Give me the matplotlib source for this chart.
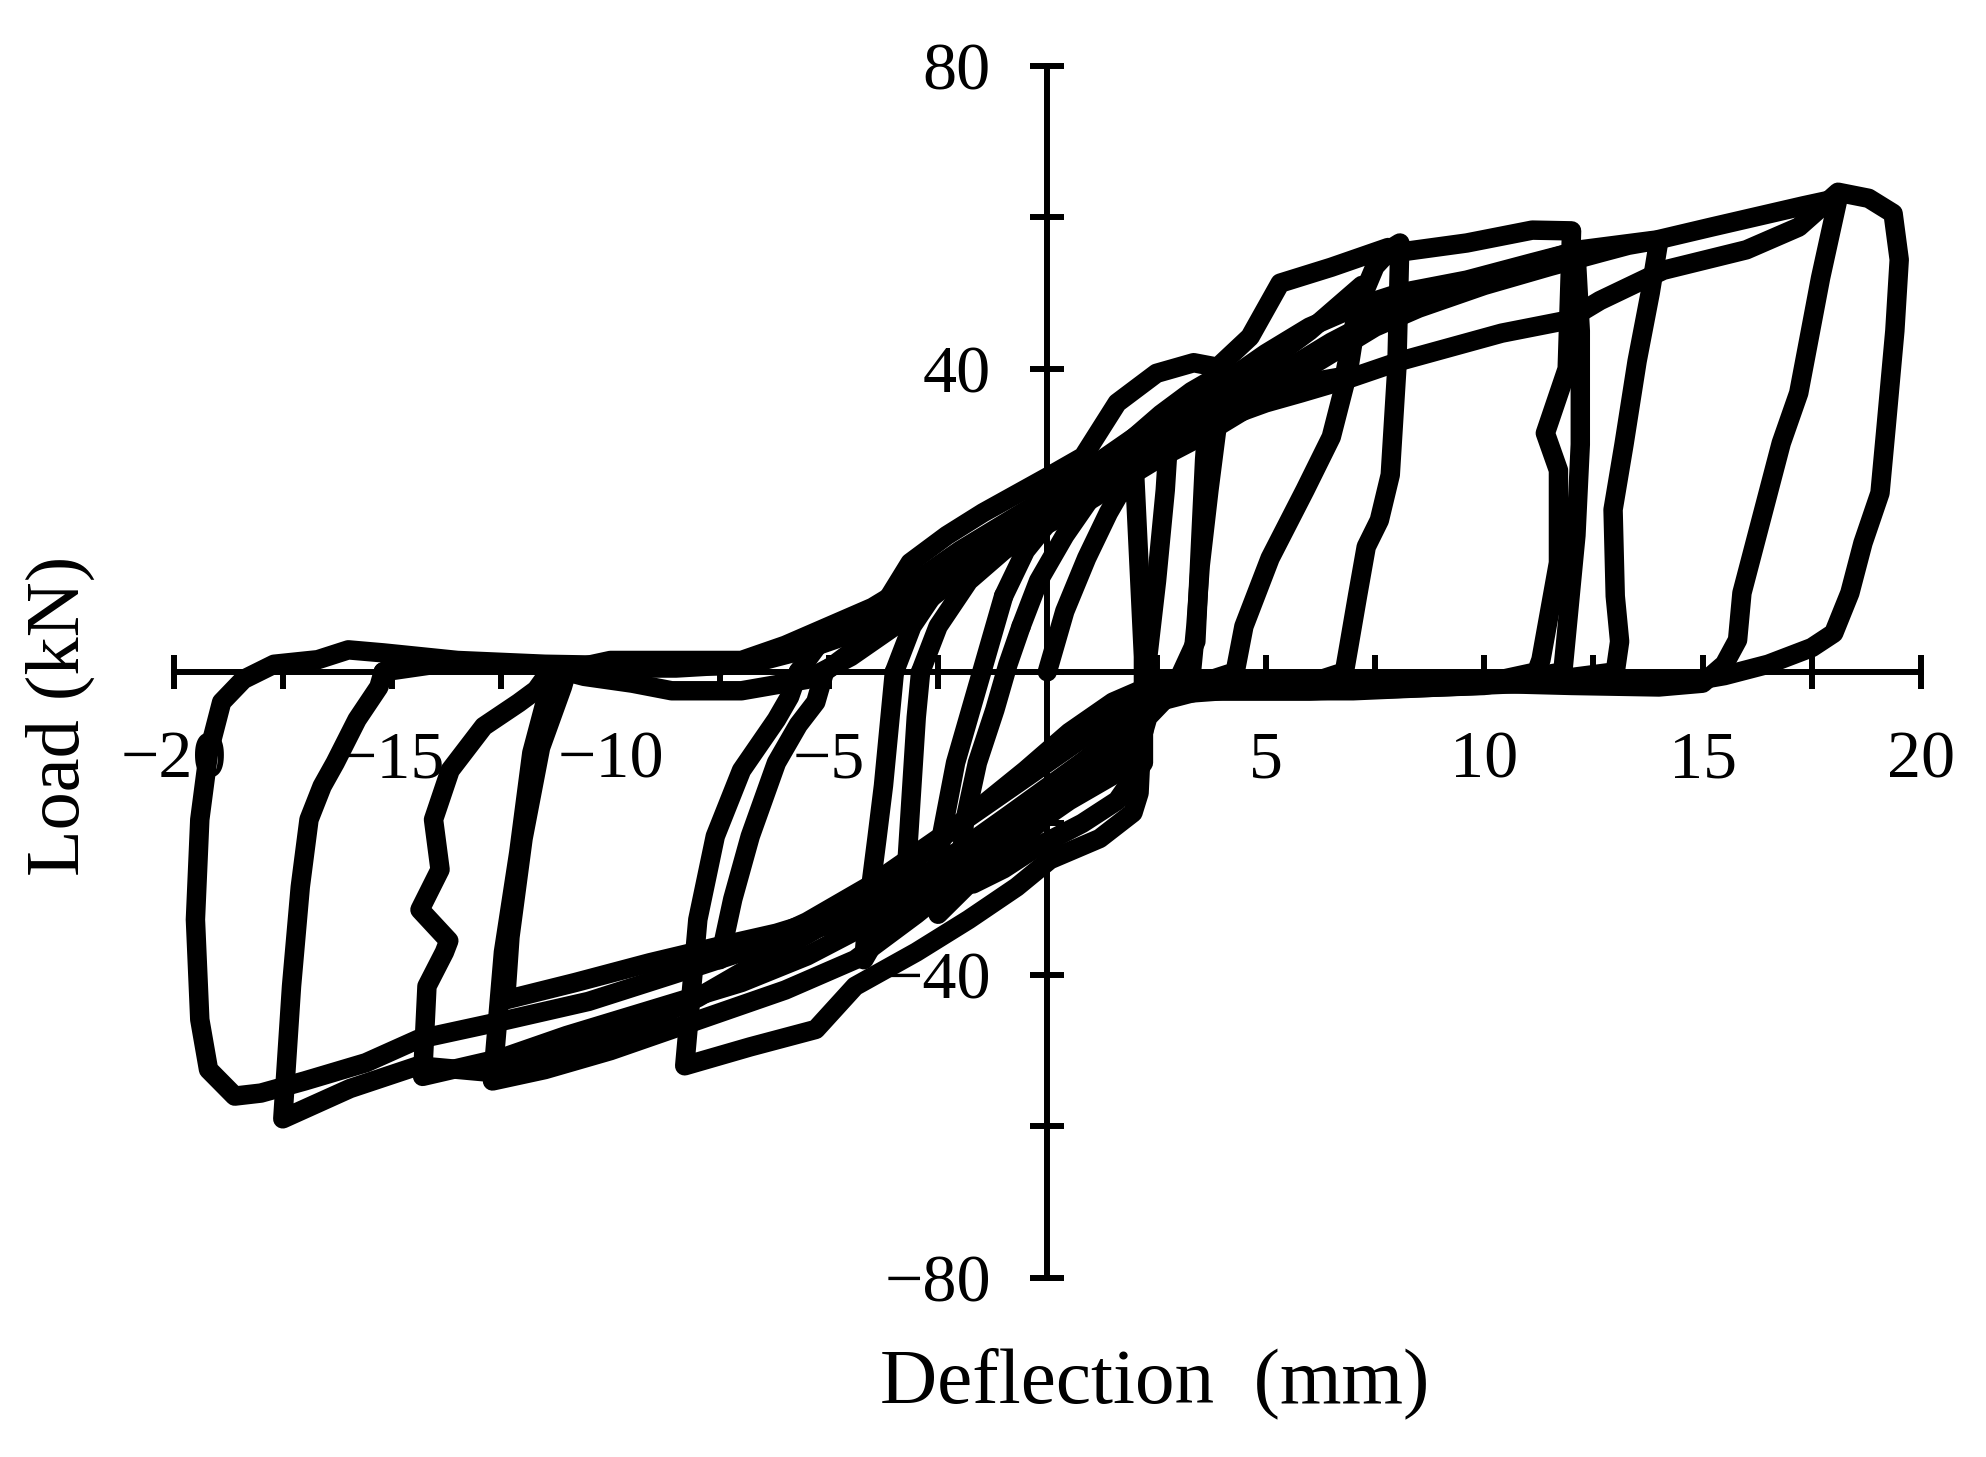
import matplotlib
matplotlib.use("Agg")
import matplotlib.pyplot as plt

plt.rcParams['font.family'] = ['Liberation Serif', 'DejaVu Serif']

# load-deflection history, one list pair per cycle
# (deflection in mm, load in kN)
c1_x = [0.0, 0.4, 0.9, 1.4, 1.8, 2.0, 2.1, 2.2, 2.2, 1.6, 0.8, -0.2, -1.0, -1.7, -2.0, -1.9, -1.6, -1.2, -0.9, -0.6]
c1_y = [0.0, 8, 15, 21, 25, 26, 14, 2, -12, -17, -20, -23, -26, -28, -27, -20, -12, -5, 1, 6]

c2_x = [-0.6, -0.2, 0.4, 1.0, 1.6, 2.2, 2.6, 2.8, 2.7, 2.5, 2.3, 2.1, 1.2, 0.2, -0.8, -1.8, -2.5, -2.6, -2.4, -2.1, -1.7, -1.4, -1.0]
c2_y = [6, 12, 18, 23, 27, 30, 32, 33, 24, 12, 2, -8, -13, -18, -23, -28, -32, -30, -21, -12, -4, 2, 10]

c3_x = [-1.0, -0.5, 0.2, 1.0, 1.8, 2.6, 3.3, 3.9, 3.9, 3.7, 3.5, 3.4, 3.3, 2.8, 2.2, 1.6, 0.5, -0.7,
        -1.9, -3.0, -3.8, -4.2, -4.1, -3.9, -3.75, -3.6, -3.5]
c3_y = [10, 16, 21, 26, 30, 34, 37, 39, 33, 24, 14, 6, 0, -1.5, -3, -9, -14, -19,
        -24, -29, -34, -38, -31, -22, -15, -6, 0]

c4_x = [-3.5, -3.1, -2.4, -1.6, -0.8, 0.0, 1.0, 2.0, 2.8, 3.4, 3.7, 3.6, 3.5, 3.4, 3.0, 2.5, 2.0, 1.0,
        0.0, -1.0, -2.0, -2.8, -3.3, -3.2, -3.1, -3.0, -2.9]
c4_y = [0, 6, 12, 17, 20, 22, 26, 30, 33, 35, 36, 28, 16, 4, -1, -2, -6, -11,
        -16, -21, -25, -29, -32, -24, -15, -6, 0]

c5_x = [-2.9, -2.5, -1.8, -1.0, 0.0, 1.0, 2.0, 3.0, 3.9, 4.6, 5.3, 6.0, 6.6, 7.0, 7.2, 6.9, 6.5, 5.9,
        5.1, 4.5, 4.3, 3.5, 2.8, 2.3, 2.0, 1.6, 0.45, -0.7, -1.8, -3.0, -4.3, -6.0, -7.3, -7.5, -7.2,
        -6.8, -6.2, -5.7, -5.3, -5.1]
c5_y = [0, 6, 12, 16, 20, 24, 28, 31, 34, 38, 42, 45, 48, 50, 51, 40, 31, 24,
        15, 6, 0, -1.5, -2, -3, -6, -9.4, -14.2, -19.5, -23.9, -29.2, -32.3, -35, -36.7, -38, -30,
        -21.7, -12, -7, -4, 0]

c6_x = [-5.1, -4.4, -3.6, -2.8, -1.9, -1.0, 0.0, 1.0, 2.0, 3.0, 3.9, 4.6, 5.3, 6.0, 6.8, 7.1, 7.5,
        7.9, 8.07, 8.0, 7.85, 7.6, 7.3, 7.1, 6.9, 6.8, 6.0, 5.0, 4.0, 3.0, 2.3, 2.15, 2.1, 1.96, 1.2,
        0.06, -0.7, -1.8, -3.0, -4.4, -5.3, -6.8, -8.3, -8.0, -7.6, -7.0, -6.2, -5.9, -5.7]
c6_y = [0, 3, 7, 11, 15, 18, 21, 25, 28, 31, 34, 36, 37.5, 38.2, 39, 48, 53.5,
        56, 56.6, 40, 26, 20, 16.5, 10, 3.3, 0, -1.5, -1.8, -2.0, -2.5, -4, -10, -16, -18.6, -22,
        -24.8, -28.4, -32.7, -37, -41.5, -47.2, -49.5, -52, -32.7, -21.7, -13, -6.3, -3.3, 0]

c7_x = [-5.7, -5.0, -4.2, -3.76, -3.14, -2.3, -1.47, 0.0, 0.82, 1.6, 2.5, 3.35, 3.9, 4.64, 5.33, 6.5,
        7.8, 8.2, 9.6, 11.1, 12.0, 11.9, 11.4, 11.7, 11.7, 11.3, 11.2, 10.0, 8.0, 6.0, 4.0, 2.8, 2.3,
        2.0, 0.5, -1.5, -3.0, -4.4, -6.0, -8.0, -10.0, -11.5, -12.7, -12.45, -12.1, -11.8, -11.4, -11.2]
c7_y = [0, 5.5, 7.5, 8.6, 14.4, 18, 21, 25.7, 28.4, 35.5, 39.4, 40.8, 40.2, 44.2, 51.3, 53.4,
        56, 55.5, 56.6, 58.3, 58.2, 40, 31.5, 26.6, 14.4, 1.6, 0, -1.5, -2, -2.5, -2.5, -3, -6,
        -12, -17, -25, -32, -38, -42, -46, -50, -52.5, -54, -37, -23.9, -10.7, -2, 0]

c8_x = [-11.2, -10.0, -8.5, -7.0, -6.0, -5.0, -4.0, -3.0, -2.0, -1.0, 0.0, 1.0, 2.0, 3.0, 4.0, 5.0,
        6.0, 7.0, 8.07, 9.6, 11.1, 12.1, 12.2, 12.2, 12.1, 11.9, 11.8, 10.0, 8.0, 6.0, 4.0, 3.0, 2.0,
        1.5, 0.3, -0.9, -2.0, -3.2, -4.5, -6.2, -7.5, -9.1, -10.8, -12.4, -12.3, -12.0, -11.6, -11.1, -11.0]
c8_y = [0, 1.5, 1.5, 1.5, 3.5, 6, 8.5, 12, 16, 19.5, 23, 27, 31, 35, 38, 42,
        45.5, 48, 50, 51.7, 54, 55.5, 45, 30, 18, 6, 0, -1.8, -2.2, -2.5, -2.5, -2.5, -4,
        -9, -14, -19, -23.5, -28.5, -31.5, -34.5, -36.2, -38.4, -41, -43.3, -35, -22, -10, -2, 0]

c9_x = [-11.0, -10.6, -9.5, -8.6, -7.0, -5.5, -4.5, -3.5, -2.5, -1.5, -0.5, 0.5, 1.5, 2.5, 3.5, 4.5,
        5.5, 6.5, 7.5, 8.5, 10.0, 11.5, 12.65, 13.3, 14.0, 13.8, 13.5, 13.2, 12.95, 13.0, 13.1, 13.0,
        11.0, 9.0, 7.0, 5.0, 3.5, 2.5, 1.5, 0.5, -1.0, -2.5, -4.0, -5.5, -7.0, -9.0, -11.0, -12.5,
        -14.3, -14.2, -13.8, -13.7, -14.36, -13.9, -14.05, -13.67, -12.9, -12.1, -11.7, -11.4]
c9_y = [0, -0.6, -1.5, -2.5, -2.5, -1, 2, 6, 10.5, 14.5, 18, 21, 24.5, 28, 31, 34.5,
        38.5, 42, 45.5, 48, 51, 53.5, 55.3, 56.3, 57, 50, 41, 30, 21.4, 10, 4, 0,
        -1.5, -2, -2.5, -2.5, -2.5, -4, -10, -15, -21, -27, -33, -37.5, -41, -44.5, -48, -51,
        -53.4, -41.5, -37, -35.5, -31.4, -26.1, -19.5, -13, -7.2, -4.1, -2.4, 0]

c10_x = [-11.4, -10.5, -9.0, -7.5, -6.5, -5.5, -4.5, -3.5, -2.5, -1.5, -0.5, 0.5, 1.5, 2.5, 3.5, 4.5,
         5.5, 6.5, 7.5, 8.5, 10.0, 11.2, 12.2, 13.95, 15.2, 16.4, 17.3, 18.1, 17.7, 17.2, 16.8, 16.5,
         16.2, 15.9, 15.8, 15.5, 15.0, 14.0, 12.0, 10.0, 8.0, 6.0, 4.0, 2.5, 1.5, 0.5, -0.5, -2.0,
         -3.5, -5.0, -6.5, -8.0, -9.5, -11.0, -12.5, -14.4, -15.96, -17.5, -17.3, -17.1, -16.9,
         -16.6, -16.3, -15.8, -15.3, -15.2]
c10_y = [0, 0.5, 0.8, 0.8, 1.5, 3, 5, 8, 12, 16, 19, 22, 25.5, 29, 32.5, 36.5,
         40, 43.5, 46.5, 49, 51.5, 54, 55.7, 57, 58.7, 60.3, 61.5, 62.5, 52, 36.8, 30.2, 23.6,
         17, 10.4, 4.2, 1, -1.5, -2, -1.8, -1.5, -1.5, -1.5, -1.2, -1.5, -4, -8, -13, -20,
         -27, -33, -38, -43, -47, -50.5, -53, -52, -55, -59, -41.5, -28.4, -19.5,
         -15.1, -12, -6.3, -2, 0]

c11_x = [-15.2, -14.0, -12.0, -10.0, -8.5, -7.0, -6.0, -5.0, -4.0, -3.0, -2.0, -1.0, 0.0, 1.2, 2.35,
         3.9, 5.0, 5.8, 6.8, 8.07, 10.4, 11.9, 12.65, 14.1, 16.0, 17.2, 18.1, 18.8, 19.36, 19.5,
         19.4, 19.2, 19.06, 18.67, 18.37, 18.0, 17.5, 16.5, 15.5, 14.5, 13.0, 11.0, 9.0, 7.0, 5.0,
         3.5, 2.5, 1.5, 0.5, -1.0, -2.5, -4.0, -5.5, -7.0, -8.6, -10.5, -12.4, -14.4, -15.6, -17.0,
         -18.0, -18.6, -19.2, -19.4, -19.5, -19.4, -19.2, -18.9, -18.4, -17.7, -16.7, -16.0, -15.2,
         -13.5, -11.5, -9.5]
c11_y = [0, 1, 1, 0.5, 0.5, 1, 2.5, 4.5, 7, 10, 13.5, 16.5, 20, 25, 30,
         33.2, 35.5, 36.8, 38.5, 41, 44.7, 46.4, 49, 53, 55.7, 58.7, 63.3, 62.5, 60.5, 54.4,
         45, 32.3, 23.6, 17, 10.4, 5.1, 3.2, 1, -0.5, -1.5, -1.5, -1.2, -1, -1, -1.2,
         -1.5, -3, -6, -10, -16, -22, -28, -33, -37, -40, -43.5, -46, -48.5, -51.6, -54,
         -55.6, -56, -52.5, -45.9, -32.7, -19.5, -10.7, -4, -1, 1, 1.6, 2.9, 2.5,
         1.5, 1.0, 0.8]

cycles_x = [c1_x, c2_x, c3_x, c4_x, c5_x, c6_x, c7_x, c8_x, c9_x, c10_x, c11_x]
cycles_y = [c1_y, c2_y, c3_y, c4_y, c5_y, c6_y, c7_y, c8_y, c9_y, c10_y, c11_y]

x_ticks = [-20, -17.5, -15, -12.5, -10, -7.5, -5, -2.5, 0, 2.5, 5, 7.5, 10, 12.5, 15, 17.5, 20]
x_tick_labels = ['\u221220', '', '\u221215', '', '\u221210', '', '\u22125', '', '', '',
                 '5', '', '10', '', '15', '', '20']
y_ticks = [-80, -60, -40, -20, 0, 20, 40, 60, 80]
y_tick_labels = ['\u221280', '', '\u221240', '', '', '', '40', '', '80']

fig = plt.figure(figsize=(19.86, 14.57), dpi=100)
ax = fig.add_axes([0.0874, 0.1229, 0.8799, 0.832])

for cx, cy in zip(cycles_x, cycles_y):
    ax.plot(cx, cy, color='black', lw=14, solid_joinstyle='round', solid_capstyle='round', zorder=3)

ax.set_xlim(-20, 20)
ax.set_ylim(-80, 80)
ax.spines['left'].set_position(('data', 0))
ax.spines['bottom'].set_position(('data', 0))
ax.spines['top'].set_visible(False)
ax.spines['right'].set_visible(False)
for s in ['left', 'bottom']:
    ax.spines[s].set_linewidth(4.3)

ax.set_xticks(x_ticks)
ax.set_xticklabels(x_tick_labels)
ax.set_yticks(y_ticks)
ax.set_yticklabels(y_tick_labels)
ax.tick_params(axis='both', direction='inout', length=25, width=4.3, labelsize=49)
ax.tick_params(axis='x', pad=30)
ax.tick_params(axis='y', pad=28)
ax.patch.set_visible(False)

fig.text(1155 / 1986, 1 - 1383 / 1457, 'Deflection  (mm)', ha='center', va='center', fontsize=57)
fig.text(60 / 1986, 1 - 716 / 1457, 'Load (kN)', ha='center', va='center', rotation=90, fontsize=55)

fig.savefig('out.png', dpi=100)
